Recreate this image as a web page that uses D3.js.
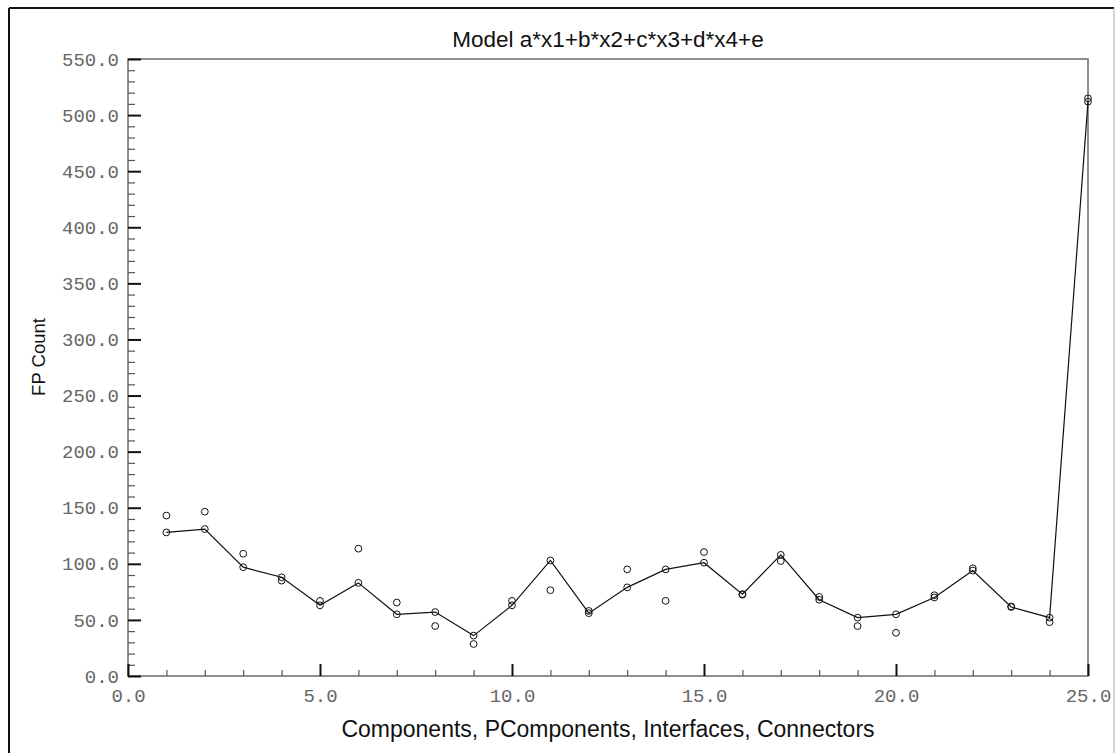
<!DOCTYPE html>
<html><head><meta charset="utf-8">
<script src="https://cdn.jsdelivr.net/npm/d3@7"></script>
<style>body{margin:0;background:#fff;overflow:hidden}</style>
</head><body>
<svg id="c" width="1119" height="753"></svg>
<script>
const xValues = [1,2,3,4,5,6,7,8,9,10,11,12,13,14,15,16,17,18,19,20,21,22,23,24,25];
const fittedValues = [128,131,97,88,63,83,55,57,36,63,103,56,79,95,101,73,108,68,52,55,70,94,61.5,52,512];
const observedValues = [143,146.5,109,85,67,113.5,65.5,44.5,28.5,67,76.5,58,95,67,110.5,72.5,102.5,70.5,44.5,38.5,72,96,62,48,515];
const xMajorTicks = [0,5,10,15,20,25];
const xMinorTicks = [1,2,3,4,6,7,8,9,11,12,13,14,16,17,18,19,21,22,23,24];
const yMajorTicks = [0,50,100,150,200,250,300,350,400,450,500,550];
const yMinorTicks = d3.range(0, 551, 10).filter(v => v % 50 !== 0);
const titleText = "Model a*x1+b*x2+c*x3+d*x4+e";
const xTitle = "Components, PComponents, Interfaces, Connectors";
const yTitle = "FP Count";

const svg = d3.select("#c");
const L = 128, R = 1088, T = 59, B = 676;
const x = d3.scaleLinear().domain([0, 25]).range([L, R]);
const y = d3.scaleLinear().domain([0, 550]).range([B, T]);
const fmt = d3.format(".1f");

// outer frame
svg.append("line").attr("x1",9).attr("y1",8).attr("x2",1114).attr("y2",8).attr("stroke","#111").attr("stroke-width",2);
svg.append("line").attr("x1",9).attr("y1",8).attr("x2",9).attr("y2",753).attr("stroke","#111").attr("stroke-width",2);
svg.append("line").attr("x1",1114).attr("y1",8).attr("x2",1114).attr("y2",753).attr("stroke","#aaa").attr("stroke-width",1);

// plot border
svg.append("rect").attr("x",L).attr("y",T).attr("width",R-L).attr("height",B-T)
  .attr("fill","none").attr("stroke","#6a6a6a").attr("stroke-width",1.5);

const labelFont = "'Liberation Mono','Courier New',monospace";

// y axis minor
svg.append("g").attr("transform",`translate(${L},0)`)
  .call(d3.axisLeft(y).tickValues(yMinorTicks).tickSize(-7).tickFormat(""))
  .call(g => g.select(".domain").remove())
  .call(g => g.selectAll(".tick line").attr("stroke","#555").attr("stroke-width",1.2));
// y axis major
svg.append("g").attr("transform",`translate(${L},0)`)
  .call(d3.axisLeft(y).tickValues(yMajorTicks).tickSize(-13).tickPadding(9).tickFormat(fmt))
  .call(g => g.select(".domain").remove())
  .call(g => g.selectAll(".tick line").attr("stroke","#111").attr("stroke-width",2))
  .call(g => g.selectAll(".tick text").attr("fill","#666").style("font-family",labelFont).style("font-size","19px"));

// x axis minor
svg.append("g").attr("transform",`translate(0,${B})`)
  .call(d3.axisBottom(x).tickValues(xMinorTicks).tickSize(-6).tickFormat(""))
  .call(g => g.select(".domain").remove())
  .call(g => g.selectAll(".tick line").attr("stroke","#555").attr("stroke-width",1.2));
// x axis major
svg.append("g").attr("transform",`translate(0,${B})`)
  .call(d3.axisBottom(x).tickValues(xMajorTicks).tickSize(-12).tickFormat(fmt))
  .call(g => g.select(".domain").remove())
  .call(g => g.selectAll(".tick line").attr("stroke","#111").attr("stroke-width",2))
  .call(g => g.selectAll(".tick text").attr("y",26).attr("dy","0").attr("fill","#666").style("font-family",labelFont).style("font-size","19px"));

// titles
svg.append("text").attr("x",608).attr("y",47).attr("text-anchor","middle")
  .style("font-family","'Liberation Sans',Arial,sans-serif").style("font-size","22.5px").attr("fill","#111").text(titleText);
svg.append("text").attr("x",608).attr("y",737).attr("text-anchor","middle")
  .style("font-family","'Liberation Sans',Arial,sans-serif").style("font-size","23px").attr("fill","#111").text(xTitle);
svg.append("text").attr("transform","translate(45,357) rotate(-90)").attr("text-anchor","middle")
  .style("font-family","'Liberation Sans',Arial,sans-serif").style("font-size","18.5px").attr("fill","#111").text(yTitle);

// line
const line = d3.line().x((d,i) => x(xValues[i])).y(d => y(d));
svg.append("path").datum(fittedValues).attr("d", line).attr("fill","none").attr("stroke","#111").attr("stroke-width",1.2);

// circles
const gp = svg.append("g");
gp.selectAll("circle.f").data(fittedValues).join("circle").attr("class","f")
  .attr("cx",(d,i)=>x(xValues[i])).attr("cy",d=>y(d)).attr("r",3.4)
  .attr("fill","none").attr("stroke","#111").attr("stroke-width",1);
gp.selectAll("circle.o").data(observedValues).join("circle").attr("class","o")
  .attr("cx",(d,i)=>x(xValues[i])).attr("cy",d=>y(d)).attr("r",3.4)
  .attr("fill","none").attr("stroke","#111").attr("stroke-width",1);
</script>
</body></html>
